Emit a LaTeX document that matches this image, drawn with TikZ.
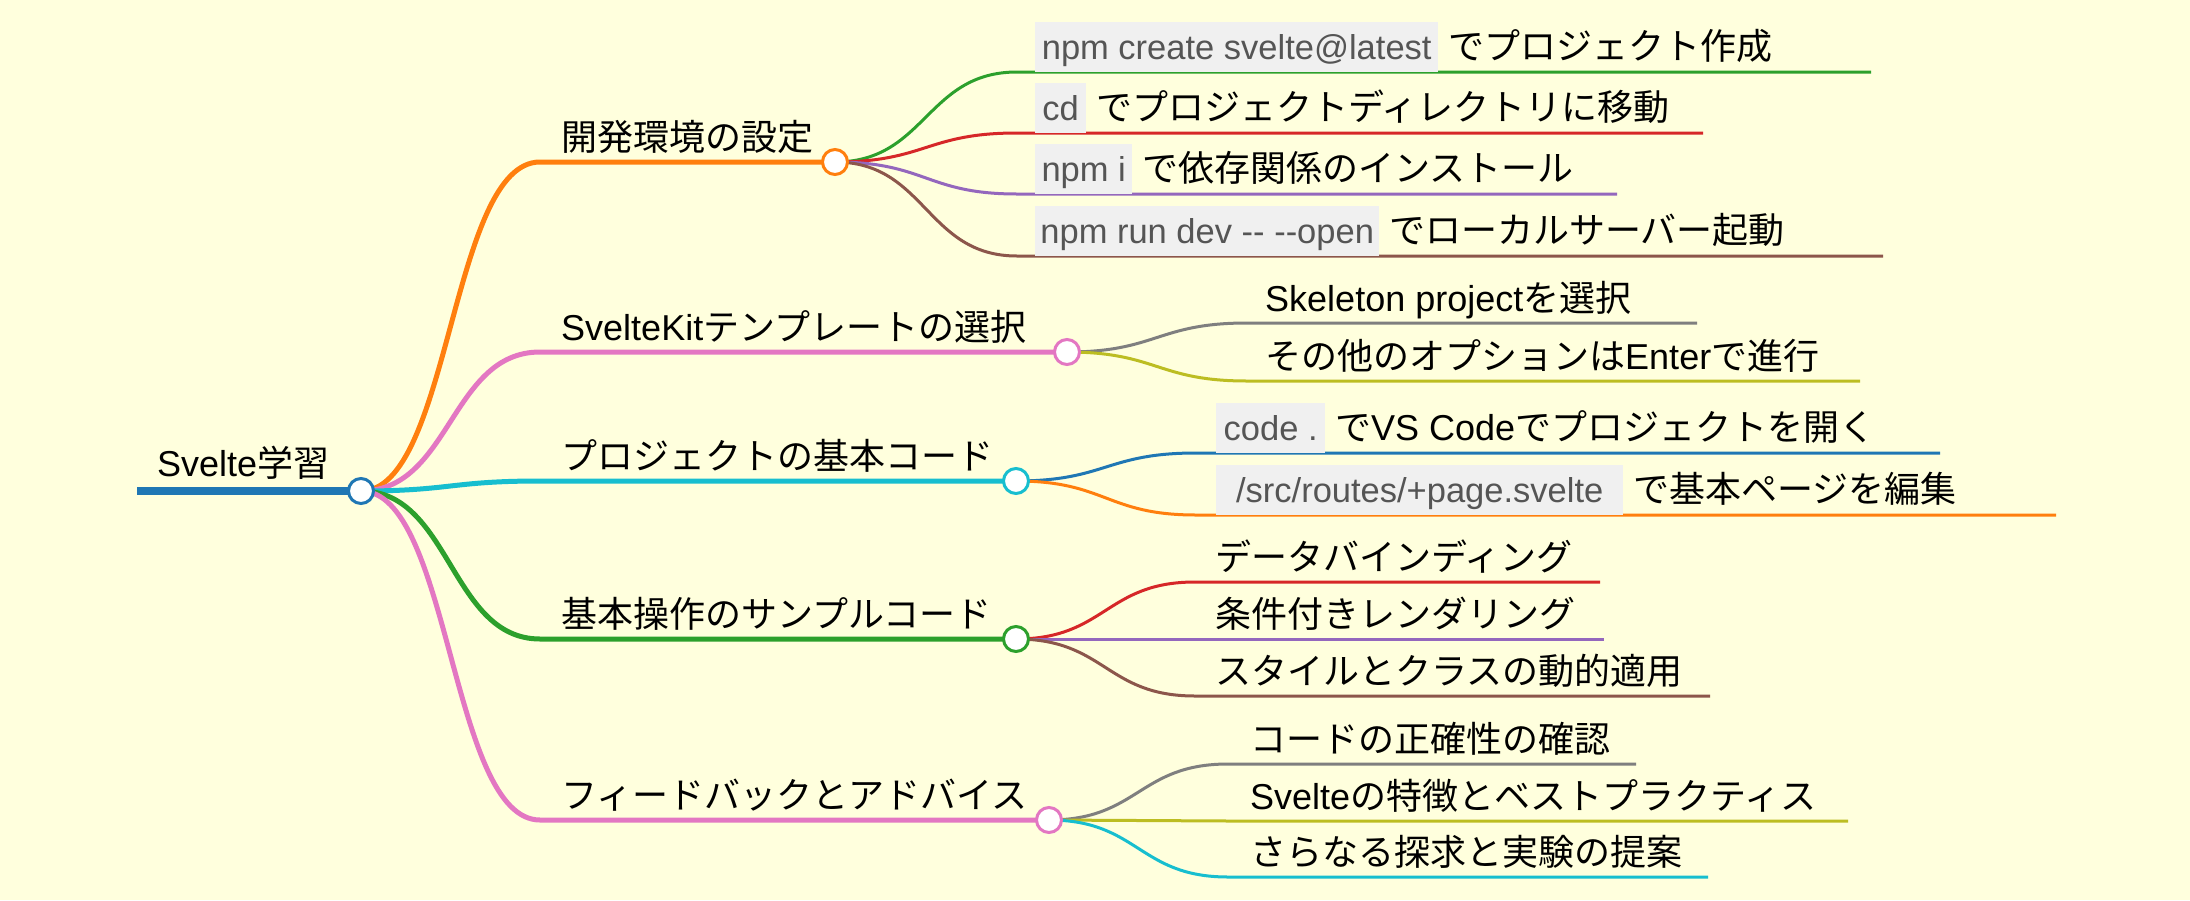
\documentclass[tikz,border=0pt]{standalone}
\usepackage{fontspec}
\setmainfont{Liberation Sans}
\newfontfamily\jpfont{Noto Sans CJK JP}
\usetikzlibrary{calc}
\definecolor{bgc}{HTML}{FFFFDD}
\definecolor{codebg}{HTML}{F0F0F0}
\definecolor{codefg}{HTML}{555555}
\definecolor{cblue}{HTML}{1F77B4}
\definecolor{corange}{HTML}{FF7F0E}
\definecolor{cgreen}{HTML}{2CA02C}
\definecolor{cred}{HTML}{D62728}
\definecolor{cpurple}{HTML}{9467BD}
\definecolor{cbrown}{HTML}{8C564B}
\definecolor{cpink}{HTML}{E377C2}
\definecolor{cgray}{HTML}{7F7F7F}
\definecolor{colive}{HTML}{BCBD22}
\definecolor{ccyan}{HTML}{17BECF}
\newcommand\J[1]{{\jpfont #1}}
\newcommand\codebx[2]{{\setlength\fboxsep{0pt}\colorbox{codebg}{\rule[-13pt]{0pt}{50pt}\makebox[#1pt][c]{\fontsize{34.5}{40}\selectfont\color{codefg}#2}}}}
\newcommand\mmlink[4]{\draw[#1] let \p1=(#2), \p2=(#3) in (\p1) .. controls ({(\x1+\x2)/2},\y1) and ({(\x1+\x2)/2},\y2) .. (\p2) -- (#4);}
\pgfdeclarelayer{back}
\pgfdeclarelayer{links}
\pgfsetlayers{back,links,main}
\tikzset{
  lbl/.style={anchor=base west, inner sep=0pt, font=\fontsize{36}{40}\selectfont},
  mmdot/.style={circle, draw=#1, fill=white, line width=3pt, minimum size=25pt, inner sep=0pt},
  lzero/.style={line width=8pt, draw=cblue},
  lone/.style={line width=5pt, draw=#1, line join=round},
  ltwo/.style={line width=3pt, draw=#1, line join=round},
}
\begin{document}
\begin{tikzpicture}[x=1pt,y=-1pt]
\useasboundingbox (0,0) rectangle (2190,900);
\begin{pgfonlayer}{back}
\fill[bgc] (0,0) rectangle (2190,900);
\end{pgfonlayer}

% root
\coordinate (r0) at (137,491);
\node[mmdot=cblue] (root) at (361,491) {};
\node[lbl] (troot) at (157,476.5) {Svelte\J{学習}};

% level 1
\node[mmdot=corange] (n1) at (835,162) {};
\coordinate (s1) at (540,162);
\node[lbl] (t1) at (561,150.5) {\J{開発環境の設定}};

\node[mmdot=cpink] (n2) at (1067,352) {};
\coordinate (s2) at (540,352);
\node[lbl] (t2) at (561,340.5) {SvelteKit\J{テンプレートの選択}};

\node[mmdot=ccyan] (n3) at (1016,481) {};
\coordinate (s3) at (540,481);
\node[lbl] (t3) at (561,469.5) {\J{プロジェクトの基本コード}};

\node[mmdot=cgreen] (n4) at (1016,639) {};
\coordinate (s4) at (540,639);
\node[lbl] (t4) at (561,627.5) {\J{基本操作のサンプルコード}};

\node[mmdot=cpink] (n5) at (1049,820) {};
\coordinate (s5) at (540,820);
\node[lbl] (t5) at (561,808.5) {\J{フィードバックとアドバイス}};

% leaves of n1
\coordinate (s11) at (1017,72);  \coordinate (e11) at (1871,72);
\coordinate (s12) at (1017,133); \coordinate (e12) at (1703,133);
\coordinate (s13) at (1017,194); \coordinate (e13) at (1617,194);
\coordinate (s14) at (1017,256); \coordinate (e14) at (1883,256);
\node[lbl] (t11) at (1035,59)  {\codebx{403}{npm create svelte@latest} \J{でプロジェクト作成}};
\node[lbl] (t12) at (1035,120) {\codebx{51}{cd} \J{でプロジェクトディレクトリに移動}};
\node[lbl] (t13) at (1035,181) {\codebx{97}{npm i} \J{で依存関係のインストール}};
\node[lbl] (t14) at (1035,243) {\codebx{344}{npm run dev -\kern0pt- -\kern0pt-open} \J{でローカルサーバー起動}};

% leaves of n2
\coordinate (s21) at (1247,323); \coordinate (e21) at (1697,323);
\coordinate (s22) at (1247,381); \coordinate (e22) at (1860,381);
\node[lbl] (t21) at (1265,311) {Skeleton project\J{を選択}};
\node[lbl] (t22) at (1265,369) {\J{その他のオプションは}Enter\J{で進行}};

% leaves of n3
\coordinate (s31) at (1196,453); \coordinate (e31) at (1940,453);
\coordinate (s32) at (1196,515); \coordinate (e32) at (2056,515);
\node[lbl] (t31) at (1216,440) {\codebx{109}{code .} \J{で}VS Code\J{でプロジェクトを開く}};
\node[lbl] (t32) at (1216,502) {\codebx{407}{/src/routes/+page.svelte} \J{で基本ページを編集}};

% leaves of n4
\coordinate (s41) at (1195,582); \coordinate (e41) at (1600,582);
\coordinate (s42) at (1195,639); \coordinate (e42) at (1604,639);
\coordinate (s43) at (1195,696); \coordinate (e43) at (1710,696);
\node[lbl] (t41) at (1215,570) {\J{データバインディング}};
\node[lbl] (t42) at (1215,627) {\J{条件付きレンダリング}};
\node[lbl] (t43) at (1215,684) {\J{スタイルとクラスの動的適用}};

% leaves of n5
\coordinate (s51) at (1228,764); \coordinate (e51) at (1636,764);
\coordinate (s52) at (1228,821); \coordinate (e52) at (1848,821);
\coordinate (s53) at (1228,877); \coordinate (e53) at (1708,877);
\node[lbl] (t51) at (1250,752) {\J{コードの正確性の確認}};
\node[lbl] (t52) at (1250,809) {Svelte\J{の特徴とベストプラクティス}};
\node[lbl] (t53) at (1250,865) {\J{さらなる探求と実験の提案}};

\begin{pgfonlayer}{links}
\draw[lzero] (r0) -- (root.center);
\mmlink{lone=corange}{root.center}{s1}{n1.center}
\mmlink{lone=cpink}{root.center}{s2}{n2.center}
\mmlink{lone=ccyan}{root.center}{s3}{n3.center}
\mmlink{lone=cgreen}{root.center}{s4}{n4.center}
\mmlink{lone=cpink}{root.center}{s5}{n5.center}

\mmlink{ltwo=cgreen}{n1.center}{s11}{e11}
\mmlink{ltwo=cred}{n1.center}{s12}{e12}
\mmlink{ltwo=cpurple}{n1.center}{s13}{e13}
\mmlink{ltwo=cbrown}{n1.center}{s14}{e14}

\mmlink{ltwo=cgray}{n2.center}{s21}{e21}
\mmlink{ltwo=colive}{n2.center}{s22}{e22}

\mmlink{ltwo=cblue}{n3.center}{s31}{e31}
\mmlink{ltwo=corange}{n3.center}{s32}{e32}

\mmlink{ltwo=cred}{n4.center}{s41}{e41}
\mmlink{ltwo=cpurple}{n4.center}{s42}{e42}
\mmlink{ltwo=cbrown}{n4.center}{s43}{e43}

\mmlink{ltwo=cgray}{n5.center}{s51}{e51}
\mmlink{ltwo=colive}{n5.center}{s52}{e52}
\mmlink{ltwo=ccyan}{n5.center}{s53}{e53}
\end{pgfonlayer}
\end{tikzpicture}
\end{document}
